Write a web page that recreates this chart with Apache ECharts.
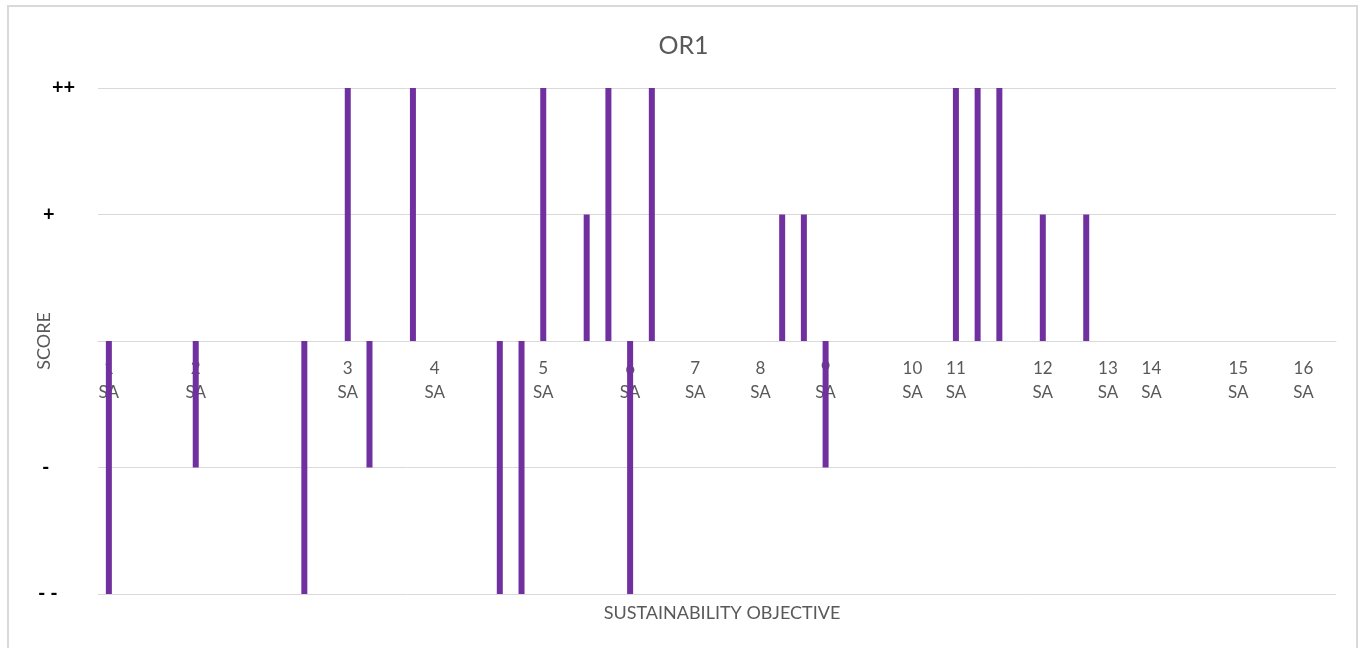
<!DOCTYPE html>
<html>
<head>
<meta charset="utf-8">
<script src="https://cdn.jsdelivr.net/npm/echarts@6/dist/echarts.min.js"></script>
<style>
  html, body { margin: 0; padding: 0; background: #fff; }
  #chart { width: 1367px; height: 648px; }
</style>
</head>
<body>
<div id="chart"></div>
<script>
// 57 slots on the x axis, only some carry an objective label
const categories = [
  "1\nSA", "", "", "", "2\nSA", "", "", "", "", "", "", "3\nSA", "", "", "", "4\nSA",
  "", "", "", "", "5\nSA", "", "", "", "6\nSA", "", "", "7\nSA", "", "", "8\nSA",
  "", "", "9\nSA", "", "", "", "10\nSA", "", "11\nSA", "", "", "", "12\nSA", "", "",
  "13\nSA", "", "14\nSA", "", "", "", "15\nSA", "", "", "16\nSA", ""
];
// scores: 2 = ++, 1 = +, -1 = -, -2 = - -
const scores = [
  -2, null, null, null, -1, null, null, null, null, -2, null, 2, -1, null, 2, null,
  null, null, -2, -2, 2, null, 1, 2, -2, 2, null, null, null, null, null,
  1, 1, -1, null, null, null, null, null, 2, 2, 2, null, 1, null, 1,
  null, null, null, null, null, null, null, null, null, null, null
];
const scoreLabels = { "-2": "- -", "-1": "-", "0": "", "1": "+", "2": "++" };

const chart = echarts.init(document.getElementById("chart"));
const font = "Lato, 'Open Sans', sans-serif";

chart.setOption({
  animation: false,
  textStyle: { fontFamily: font },
  title: [
    {
      text: "OR1",
      left: "center",
      top: 28,
      textStyle: { fontSize: 25, fontWeight: "normal", color: "#595959", fontFamily: font }
    },
    {
      text: "SUSTAINABILITY OBJECTIVE",
      left: 717,
      textAlign: "center",
      top: 599,
      textStyle: { fontSize: 18, fontWeight: "normal", color: "#595959", fontFamily: font }
    }
  ],
  graphic: [
    {
      type: "rect",
      shape: { x: 8, y: 6, width: 1349, height: 660 },
      style: { fill: "none", stroke: "#d9d9d9", lineWidth: 2 },
      silent: true
    }
  ],
  grid: { left: 98, right: 31, top: 88, bottom: 54, outerBoundsMode: "none" },
  xAxis: {
    type: "category",
    data: categories,
    position: "bottom",
    offset: -253,
    axisTick: { show: false },
    axisLine: { onZero: false, lineStyle: { color: "#d9d9d9", width: 1 } },
    axisLabel: {
      interval: 0,
      color: "#595959",
      fontSize: 17,
      lineHeight: 24,
      margin: 16,
      fontFamily: font
    }
  },
  yAxis: {
    type: "value",
    min: -2,
    max: 2,
    interval: 1,
    name: "SCORE",
    nameLocation: "middle",
    nameGap: 45,
    nameMoveOverlap: false,
    nameTextStyle: { color: "#595959", fontSize: 18, fontFamily: font },
    axisLine: { show: false },
    axisTick: { show: false },
    splitLine: { lineStyle: { color: "#d9d9d9" } },
    axisLabel: {
      align: "left",
      margin: 60,
      formatter: v => {
        const t = scoreLabels[String(v)];
        if (t === "++") return "{pp|++}";
        if (t === "+") return "{p|+}";
        if (t === "-") return "{m|-}";
        if (t === "- -") return "{mm|- -}";
        return "";
      },
      rich: {
        pp: { fontSize: 20, fontWeight: "bold", color: "#000", padding: [0, 0, 0, 14] },
        p: { fontSize: 20, fontWeight: "bold", color: "#000", padding: [0, 0, 0, 5] },
        m: { fontSize: 20, fontWeight: "bold", color: "#000", padding: [0, 0, 0, 4] },
        mm: { fontSize: 20, fontWeight: "bold", color: "#000", padding: [0, 0, 0, 0] }
      }
    }
  },
  series: [
    {
      type: "bar",
      data: scores,
      barWidth: 6,
      itemStyle: { color: "#7030A0" }
    }
  ]
});
</script>
</body>
</html>
